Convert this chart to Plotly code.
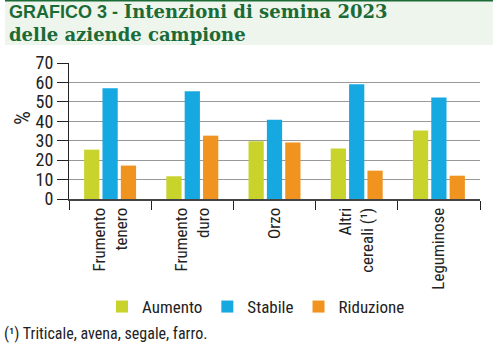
import plotly.graph_objects as go

categories = ["Frumento<br>tenero", "Frumento<br>duro", "Orzo", "Altri<br>cereali (¹)", "Leguminose"]
series_names = ["Aumento", "Stabile", "Riduzione"]
aumento = [25.4, 11.7, 29.7, 26.0, 35.3]
stabile = [57.0, 55.5, 40.8, 59.0, 52.2]
riduzione = [17.2, 32.6, 29.1, 14.6, 12.0]
colors = ["#c8d32c", "#16a9e1", "#f0931f"]
y_ticks = [0, 10, 20, 30, 40, 50, 60, 70]

FONT = "Roboto Condensed, Liberation Sans Narrow, Roboto, sans-serif"

fig = go.Figure()
for name, vals, col in zip(series_names, [aumento, stabile, riduzione], colors):
    fig.add_trace(go.Bar(x=categories, y=vals, name=name, marker=dict(color=col, line=dict(width=0))))

W, H = 493, 351
L, R, T, B = 69, 13, 63, 152
pw, ph = W - L - R, H - T - B
def px(x): return (x - L) / pw
def py(y): return (H - B - y) / ph

fig.update_layout(
    width=W, height=H,
    margin=dict(l=L, r=R, t=T, b=B),
    paper_bgcolor="white", plot_bgcolor="white",
    barmode="group", bargap=0.33, bargroupgap=0.17,
    font=dict(family=FONT, color="#222", size=15),
    showlegend=True,
    legend=dict(orientation="h", x=px(256), y=py(307), xanchor="center", yanchor="middle",
                font=dict(size=17, family=FONT, color="#222"), itemwidth=30,
                traceorder="normal"),
    xaxis=dict(showline=True, linecolor="#444", linewidth=2, ticks="outside", tickson="boundaries",
               ticklen=9, tickcolor="#222", tickwidth=1.2, tickangle=-90,
               tickfont=dict(size=17, family=FONT, color="#222"), showgrid=False),
    yaxis=dict(range=[0, 70], tickvals=y_ticks, showline=True, linecolor="#222", linewidth=1,
               ticks="outside", ticklen=11, tickcolor="#222", gridcolor="#999", gridwidth=1,
               tickfont=dict(size=18, family=FONT, color="#222"), zeroline=False),
    shapes=[
        dict(type="rect", xref="paper", yref="paper", x0=px(5), x1=px(493), y0=py(45), y1=py(0),
             fillcolor="#eef5ec", line=dict(width=0), layer="below"),
        dict(type="line", xref="paper", yref="paper", x0=px(5), x1=px(493), y0=py(0.8), y1=py(0.8),
             line=dict(color="#1b6b37", width=1.5)),
    ],
    annotations=[
        dict(xref="paper", yref="paper", x=px(7), y=py(23), xanchor="left", yanchor="middle",
             showarrow=False, align="left",
             text="<span style='font-family:Liberation Sans, Arial, sans-serif'><b>GRAFICO 3 -</b></span> "
                  "<b>Intenzioni di semina 2023</b><br><b>delle aziende campione</b>",
             font=dict(size=18, family="DejaVu Serif, Liberation Serif, serif", color="#1b6b37")),
        dict(xref="paper", yref="paper", x=px(22), y=py(118), xanchor="center", yanchor="middle",
             showarrow=False, text="%", textangle=-90,
             font=dict(size=22, family=FONT, color="#222")),
        dict(xref="paper", yref="paper", x=px(2), y=py(333), xanchor="left", yanchor="middle",
             showarrow=False, text="(¹) Triticale, avena, segale, farro.",
             font=dict(size=16, family=FONT, color="#222")),
    ],
)

fig.write_html("out.html")
